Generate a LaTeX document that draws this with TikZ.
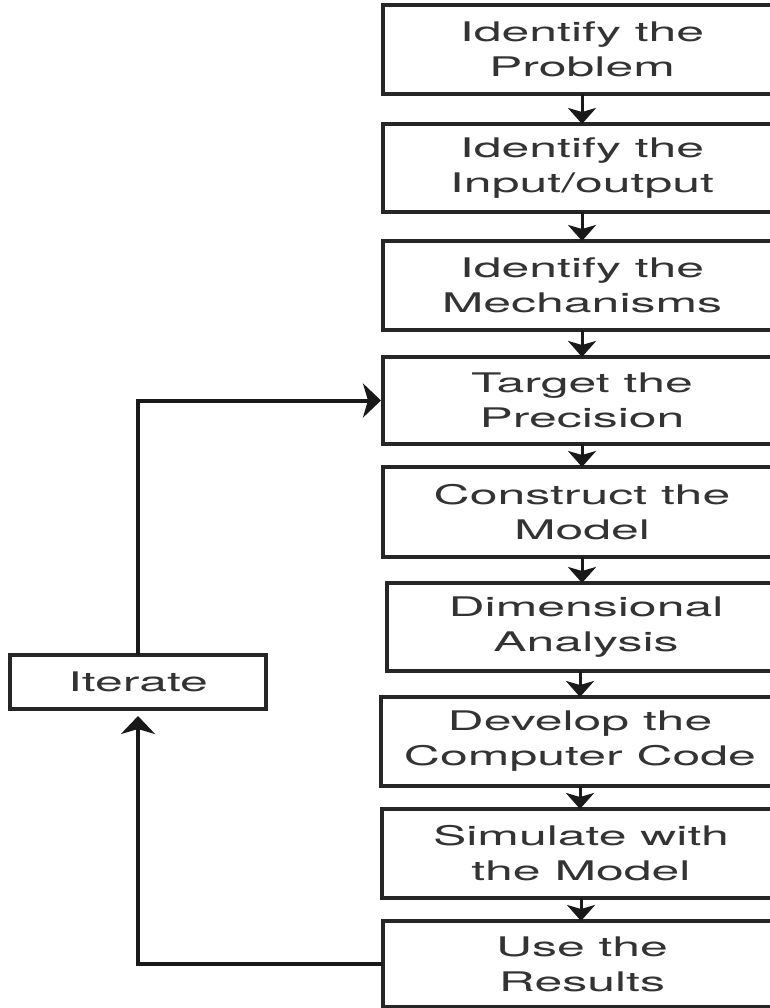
\documentclass[tikz,border=0pt]{standalone}
\usepackage{fontspec}
\newfontfamily\boxfont[FakeStretch=1.85]{TeX Gyre Heros}
\usetikzlibrary{arrows.meta}
\begin{document}
\begin{tikzpicture}[x=1pt,y=-1pt,
  box/.style={draw=black!85, line width=4pt, fill=white, minimum width=398pt,
    inner sep=0pt, outer sep=0pt, align=center,
    font=\boxfont\fontsize{27pt}{35pt}\selectfont, text=black!80},
  flow/.style={line width=3pt, draw=black!90, -{Stealth[length=16pt,width=28pt,inset=4pt]}},
  back/.style={line width=4pt, draw=black!90, -{Stealth[length=18pt,width=34pt,inset=5pt]}}]
\clip (0,0) rectangle (770,1008);
\fill[white] (0,0) rectangle (770,1008);
\node[box, minimum height=89pt] (b1) at (582,49.5) {Identify the\\Problem};
\node[box, minimum height=88pt] (b2) at (582,168) {Identify the\\Input/output};
\node[box, minimum height=89pt] (b3) at (582,285.5) {Identify the\\Mechanisms};
\node[box, minimum height=87pt] (b4) at (582,400.5) {Target the\\Precision};
\node[box, minimum height=90pt] (b5) at (582,512) {Construct the\\Model};
\node[box, minimum height=88pt] (b6) at (586,627) {Dimensional\\Analysis};
\node[box, minimum height=89pt] (b7) at (580,741.5) {Develop the\\Computer Code};
\node[box, minimum height=89pt] (b8) at (581,853.5) {Simulate with\\the Model};
\node[box, minimum height=86pt] (b9) at (582,964) {Use the\\Results};
\node[box, minimum width=256pt, minimum height=54pt] (it) at (138,682) {Iterate};
\draw[flow] (b1.south) -- (b2.north);
\draw[flow] (b2.south) -- (b3.north);
\draw[flow] (b3.south) -- (b4.north);
\draw[flow] (b4.south) -- (b5.north);
\draw[flow] (b5.south) -- (b5.south |- b6.north);
\draw[flow] (b6.south -| b7.north) -- (b7.north);
\draw[flow] (b7.south) -- (b7.south |- b8.north);
\draw[flow] (b8.south) -- (b8.south |- b9.north);
\draw[back, shorten >=7pt] (b9.west) -| (it.south);
\draw[back, shorten >=2pt] (it.north) |- (b4.west);
\end{tikzpicture}
\end{document}
